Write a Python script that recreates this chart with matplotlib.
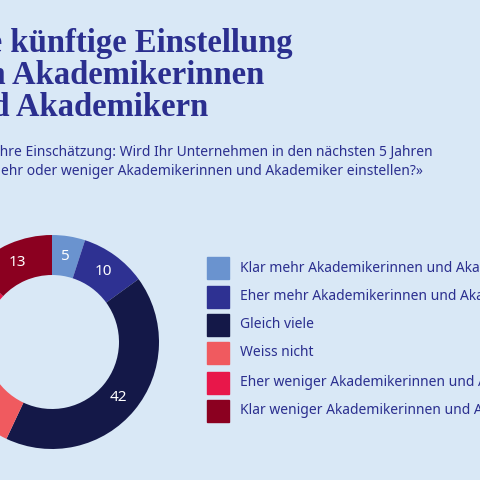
import matplotlib
matplotlib.use("Agg")
import matplotlib.pyplot as plt

categories = ["Klar mehr Akademikerinnen und Akademiker",
              "Eher mehr Akademikerinnen und Akademiker",
              "Gleich viele",
              "Weiss nicht",
              "Eher weniger Akademikerinnen und Akademiker",
              "Klar weniger Akademikerinnen und Akademiker"]
values = [5, 10, 42, 21, 9, 13]
colors = ["#6a93cf", "#2e3192", "#141848", "#f05a5f", "#e8174a", "#8b0020"]
bg = "#d9e8f6"

fig = plt.figure(figsize=(4.8, 4.8), dpi=100, facecolor=bg)
ax = fig.add_axes([0, 0, 1, 1])
ax.set_xlim(0, 480); ax.set_ylim(480, 0)
ax.set_aspect("equal"); ax.axis("off"); ax.set_facecolor(bg)

cx, cy, r = 52, 342, 107
wedges, texts = ax.pie(values, colors=colors, startangle=-90, counterclock=True,
                       radius=r, center=(cx, cy),
                       wedgeprops=dict(width=40, edgecolor="none"),
                       labels=[str(v) for v in values], labeldistance=0.81,
                       textprops=dict(color="white", fontsize=11, family="Noto Sans",
                                      ha="center", va="center"))
ax.set_xlim(0, 480); ax.set_ylim(480, 0)

ax.text(-45, 28, "Die künftige Einstellung\nvon Akademikerinnen\nund Akademikern",
        fontsize=23.5, fontweight="bold", family="Liberation Serif", color="#2b2f8f",
        va="top", linespacing=1.05)
ax.text(-12, 162, "«Ihre Einschätzung: Wird Ihr Unternehmen in den nächsten 5 Jahren\nmehr oder weniger Akademikerinnen und Akademiker einstellen?»",
        fontsize=10, family="Noto Sans", color="#2b2f8f", va="center", linespacing=1.45)

ys = [268, 297, 325, 353, 383, 411]
for c, lab, y in zip(colors, categories, ys):
    ax.add_patch(plt.Rectangle((207, y - 11), 22, 22, color=c))
    ax.text(240, y, lab, fontsize=10, family="Noto Sans", color="#2b2f8f", va="center")

fig.savefig("out.png", dpi=100, facecolor=bg)
